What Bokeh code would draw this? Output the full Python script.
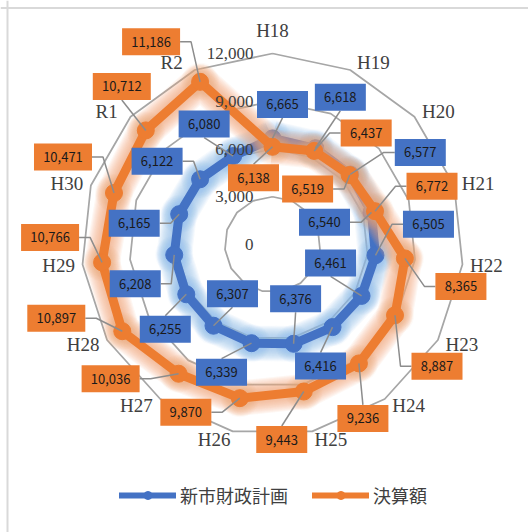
import numpy as np
from bokeh.plotting import figure
from bokeh.models import Range1d, Legend, LegendItem, Span
from bokeh.embed import file_html
from bokeh.resources import INLINE
from bokeh.core.properties import value

# ---------------- data ----------------
categories = ["H18", "H19", "H20", "H21", "H22", "H23", "H24", "H25",
              "H26", "H27", "H28", "H29", "H30", "R1", "R2"]
plan = [6665, 6618, 6577, 6540, 6505, 6461, 6416, 6376,
        6339, 6307, 6255, 6208, 6165, 6122, 6080]
actual = [6138, 6437, 6519, 6772, 8365, 8887, 9236, 9443,
          9870, 10036, 10897, 10766, 10471, 10712, 11186]
ring_values = [0, 3000, 6000, 9000, 12000]
ring_labels = ["0", "3,000", "6,000", "9,000", "12,000"]
series_names = ["新市財政計画", "決算額"]

# data-label box offsets from their point (screen px: right, down)
plan_label_dx = [10, 25, 70, -47, 53, -31, -12, 2, -30, 19, -21, -39, -45, -43, -29]
plan_label_dy = [-34, -51, -22, 10, -31, -33, 39, -45, 29, -32, 35, 29, 9, -18, -32]
actual_label_dx = [-19, 52, -42, 57, 56, 42, 4, -22, -54, -68, -66, -52, -51, -24, -49]
actual_label_dy = [31, -18, 14, -25, 28, 51, 55, 48, 14, 5, -13, -25, -36, -44, -40]

# ---------------- layout / style ----------------
W, H = 528, 532
CX, CY = 272, 244          # radar centre (px from top-left)
R_MAX = 191                # px radius of the outer ring
V_MAX = ring_values[-1]
BLUE, ORANGE = "#4472C4", "#ED7D31"
BLUE_GLOW, ORANGE_GLOW = "#8FBBE8", "#F4A97A"
GRID = "#A6A6A6"
LEADER = "#8C8C8C"
TXT = "#404040"

n = len(categories)
ang = np.deg2rad(90 - 360.0 / n * np.arange(n))
cosA, sinA = np.cos(ang), np.sin(ang)


def polar(vals):
    r = np.asarray(vals, dtype=float) / V_MAX * R_MAX
    return r * cosA, r * sinA


p = figure(width=W, height=H, output_backend="svg", toolbar_location=None,
           x_range=Range1d(-CX, W - CX), y_range=Range1d(-(H - CY), CY),
           x_axis_type=None, y_axis_type=None, min_border=0,
           outline_line_color=None, background_fill_color="white",
           border_fill_color="white")
p.grid.visible = False

# chart border (left and top edges)
p.add_layout(Span(location=-CX + 7, dimension="height", line_color="#D9D9D9", line_width=2))
p.add_layout(Span(location=CY - 7.5, dimension="width", line_color="#D9D9D9", line_width=2))

# rings
ring_xs, ring_ys = [], []
for v in ring_values[1:]:
    rx, ry = polar([v] * n)
    ring_xs.append(list(rx) + [rx[0]])
    ring_ys.append(list(ry) + [ry[0]])
p.multi_line(ring_xs, ring_ys, line_color=GRID, line_width=1.75)

# category labels
ox, oy = R_MAX * cosA, R_MAX * sinA
lab_x = ox + 24 * np.tanh(5 * cosA)
lab_y = oy + 8 * sinA + 15 * (np.abs(cosA) < 0.05)
p.text(x=list(lab_x), y=list(lab_y), text=categories,
       text_font=value("Liberation Serif"), text_font_size="19px",
       text_align="center", text_baseline="middle", text_color=TXT)


def draw_series(vals, color, glow):
    x, y = polar(vals)
    xc, yc = list(x) + [x[0]], list(y) + [y[0]]
    for k in range(12, 0, -1):
        p.line(xc, yc, line_color=glow, line_width=9 + 2.2 * k, line_alpha=0.09,
               line_join="round")
    for k in range(10, 0, -1):
        p.scatter(list(x), list(y), size=16 + 2.2 * k, fill_color=glow,
                  fill_alpha=0.06, line_color=None)
    p.line(xc, yc, line_color=color, line_width=9, line_join="round")
    p.scatter(list(x), list(y), size=17, fill_color=color, line_color=color)
    return x, y


def draw_leaders(vals, px, py, dxs, dys):
    texts = [f"{v:,}" for v in vals]
    bx = np.array(px) + np.array(dxs)
    by = np.array(py) - np.array(dys)
    widths = [7 * len(t) + 16 for t in texts]
    hh = 13.5
    lxs, lys = [], []
    for i, t in enumerate(texts):
        hw = widths[i] / 2
        rx, ry = px[i] - bx[i], py[i] - by[i]
        if abs(rx) > 1.5 * hw:
            sx = np.sign(rx)
            ax = bx[i] + sx * hw
            stub = max(0.0, min(11.0, abs(rx) - hw - 3))
            lxs.append([ax, ax + sx * stub, px[i]])
            lys.append([by[i], by[i], py[i]])
        else:
            sy = np.sign(ry)
            lxs.append([bx[i], px[i]])
            lys.append([by[i] + sy * hh, py[i]])
    p.multi_line(lxs, lys, line_color=LEADER, line_width=1.5)
    return texts, bx, by, widths


bx_, by_ = draw_series(plan, BLUE, BLUE_GLOW)
ax_, ay_ = draw_series(actual, ORANGE, ORANGE_GLOW)

# ring value labels (drawn over the series)
ring_r = np.array(ring_values) / V_MAX * R_MAX
p.text(x=[-19] * len(ring_values), y=list(ring_r), text=ring_labels,
       text_font=value("Liberation Serif"), text_font_size="17px",
       text_align="right", text_baseline="middle", text_color=TXT)

t1, b1x, b1y, w1 = draw_leaders(plan, bx_, by_, plan_label_dx, plan_label_dy)
t2, b2x, b2y, w2 = draw_leaders(actual, ax_, ay_, actual_label_dx, actual_label_dy)

for texts, bx, by, ws, col in [(t1, b1x, b1y, w1, BLUE), (t2, b2x, b2y, w2, ORANGE)]:
    p.rect(x=list(bx), y=list(by), width=ws, height=27, width_units="screen",
           height_units="screen", fill_color=col, line_color=None)
    p.text(x=list(bx), y=list(by), text=texts,
           text_font=value("Noto Sans CJK JP"), text_font_size="13px",
           text_align="center", text_baseline="middle", text_color="#1A1A1A")

# legend (renderers hold a single point placed outside the visible range)
off = [-10000]
lb = p.line(x=off * 2, y=off * 2, line_color=BLUE, line_width=6, line_cap="round")
sb = p.scatter(x=off, y=off, size=12, fill_color=BLUE, line_color=BLUE)
lo = p.line(x=off * 2, y=off * 2, line_color=ORANGE, line_width=6, line_cap="round")
so = p.scatter(x=off, y=off, size=12, fill_color=ORANGE, line_color=ORANGE)
legend = Legend(items=[LegendItem(label=series_names[0], renderers=[lb, sb]),
                       LegendItem(label=series_names[1], renderers=[lo, so])],
                orientation="horizontal", location=(119, 24),
                glyph_width=57, glyph_height=20, label_standoff=4, spacing=24,
                padding=0, margin=0, border_line_color=None,
                background_fill_alpha=0,
                label_text_font="Noto Sans CJK JP", label_text_font_size="18px",
                label_text_color=TXT)
p.add_layout(legend)

open("out.html", "w").write(file_html(p, INLINE))
